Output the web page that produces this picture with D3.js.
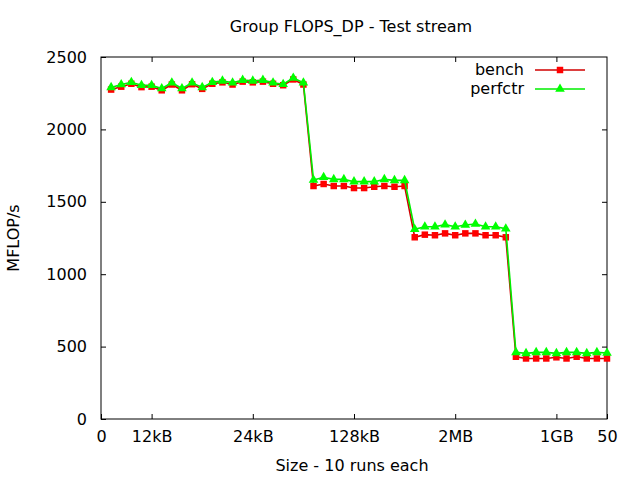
<!DOCTYPE html>
<html><head><meta charset="utf-8">
<script src="https://cdn.jsdelivr.net/npm/d3@7"></script>
<style>body{margin:0;background:#fff}svg{display:block}text{font-family:"DejaVu Sans",sans-serif;font-size:16px;fill:#000}</style>
</head><body><svg id="c" width="640" height="480"></svg>
<script>
const title = "Group FLOPS_DP - Test stream";
const xLabel = "Size - 10 runs each";
const yLabel = "MFLOP/s";
const runs = [1,2,3,4,5,6,7,8,9,10,11,12,13,14,15,16,17,18,19,20,21,22,23,24,25,26,27,28,29,30,31,32,33,34,35,36,37,38,39,40,41,42,43,44,45,46,47,48,49,50];
const bench = [2275,2295,2315,2292,2295,2270,2310,2270,2312,2280,2315,2325,2310,2330,2325,2330,2315,2305,2345,2310,
               1609,1623,1609,1609,1595,1595,1604,1609,1604,1609,
               1255,1273,1269,1282,1269,1282,1282,1269,1269,1255,
               430,418,418,418,426,418,430,418,418,418];
const perfctr = [2290,2310,2325,2305,2305,2282,2322,2282,2322,2290,2325,2335,2322,2340,2335,2340,2322,2312,2355,2322,
                 1651,1669,1655,1655,1639,1639,1639,1655,1648,1648,
                 1310,1328,1328,1342,1328,1340,1347,1328,1328,1314,
                 460,453,460,460,453,460,460,453,460,456];
const xTickVals = [0,5,15,25,35,45,50];
const xTickLabels = ["0","12kB","24kB","128kB","2MB","1GB","50"];
const yTickVals = [0,500,1000,1500,2000,2500];
const seriesNames = ["bench","perfctr"];

const svg = d3.select("#c");
const L=101, R=607, T=57, B=419;
const x = d3.scaleLinear().domain([0,50]).range([L,R]);
const y = d3.scaleLinear().domain([0,2500]).range([B,T]);

const tl = 5;
svg.append("g").attr("transform",`translate(0,${B})`)
  .call(d3.axisBottom(x).tickValues(xTickVals).tickSizeInner(-tl).tickSizeOuter(0).tickPadding(12)
  .tickFormat((d,i)=>xTickLabels[i]));
svg.append("g").attr("transform",`translate(0,${T})`)
  .call(d3.axisTop(x).tickValues(xTickVals.slice(1,-1)).tickSizeInner(-tl).tickSizeOuter(0).tickFormat(""));
svg.append("g").attr("transform",`translate(${L},0)`)
  .call(d3.axisLeft(y).tickValues(yTickVals).tickSizeInner(-tl).tickSizeOuter(0).tickPadding(14).tickFormat(d3.format("d")));
svg.append("g").attr("transform",`translate(${R},0)`)
  .call(d3.axisRight(y).tickValues(yTickVals.slice(1,-1)).tickSizeInner(-tl).tickSizeOuter(0).tickFormat(""));
svg.selectAll(".domain").remove();
svg.selectAll(".tick line").attr("stroke","#000");
svg.selectAll(".tick text").style("font-family","DejaVu Sans").style("font-size","16px");
svg.append("rect").attr("x",L).attr("y",T).attr("width",R-L).attr("height",B-T)
  .attr("fill","none").attr("stroke","#000").attr("stroke-width",1);

const line = d3.line().x((d,i)=>x(runs[i])).y(d=>y(d));
const tri = d3.symbol().type(d3.symbolTriangle).size(40);
const sq = d3.symbol().type(d3.symbolSquare).size(42);

function drawSeries(vals, stroke, fill, sym){
  svg.append("path").datum(vals).attr("d",line).attr("fill","none").attr("stroke",stroke).attr("stroke-width",1.6);
  svg.append("g").selectAll("path").data(vals).join("path")
    .attr("d",sym).attr("transform",(d,i)=>`translate(${x(runs[i])},${y(d)})`).attr("fill",fill);
}
drawSeries(bench,"#d00000","#ff0000",sq);
drawSeries(perfctr,"#00ee00","#00ff00",tri);

const leg = [{n:seriesNames[0],s:"#d00000",f:"#ff0000",sym:sq,yy:70},{n:seriesNames[1],s:"#00ee00",f:"#00ff00",sym:tri,yy:89}];
leg.forEach(l=>{
  svg.append("text").attr("x",524).attr("y",l.yy+5).attr("text-anchor","end").text(l.n);
  svg.append("line").attr("x1",535).attr("x2",585).attr("y1",l.yy).attr("y2",l.yy).attr("stroke",l.s).attr("stroke-width",1.6);
  svg.append("path").attr("d",l.sym).attr("transform",`translate(560,${l.yy})`).attr("fill",l.f);
});

svg.append("text").attr("x",351).attr("y",32).attr("text-anchor","middle").text(title);
svg.append("text").attr("x",352).attr("y",471).attr("text-anchor","middle").text(xLabel);
svg.append("text").attr("transform","translate(19,238) rotate(-90)").attr("text-anchor","middle").text(yLabel);
</script></body></html>
